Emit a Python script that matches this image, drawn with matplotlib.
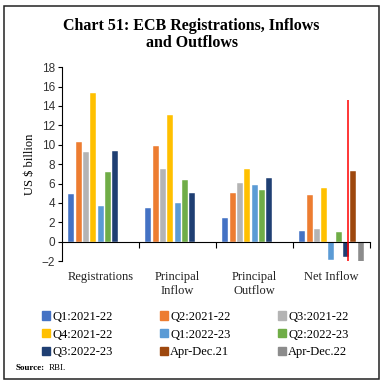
import matplotlib
matplotlib.use("Agg")
import matplotlib.pyplot as plt
from matplotlib.patches import Patch, Rectangle
import numpy as np

# data (US $ billion)
categories = ["Registrations", "Principal\nInflow", "Principal\nOutflow", "Net Inflow"]
series_labels = ["Q1:2021-22", "Q2:2021-22", "Q3:2021-22", "Q4:2021-22",
                 "Q1:2022-23", "Q2:2022-23", "Q3:2022-23", "Apr-Dec.21", "Apr-Dec.22"]
q1_2122 = [4.9, 3.5, 2.4, 1.1]
q2_2122 = [10.25, 9.85, 5.0, 4.8]
q3_2122 = [9.25, 7.45, 6.1, 1.3]
q4_2122 = [15.3, 13.1, 7.55, 5.5]
q1_2223 = [3.7, 4.0, 5.9, -1.9]
q2_2223 = [7.15, 6.4, 5.3, 1.0]
q3_2223 = [9.35, 5.0, 6.55, -1.6]
aprdec21 = [np.nan, np.nan, np.nan, 7.3]
aprdec22 = [np.nan, np.nan, np.nan, -2.2]
series = [q1_2122, q2_2122, q3_2122, q4_2122, q1_2223, q2_2223, q3_2223, aprdec21, aprdec22]
colors = ["#4472C4", "#ED7D31", "#B4B4B4", "#FFC000", "#5B9BD5",
          "#70AD47", "#1F3F73", "#9E480E", "#8C8C8C"]

serif = "Liberation Serif"

fig = plt.figure(figsize=(3.83, 3.84), dpi=100)
ax = fig.add_axes([0.162, 0.320, 0.804, 0.505])

x = np.arange(len(categories))
slot = 0.095
for k, (vals, c, lab) in enumerate(zip(series, colors, series_labels)):
    ax.bar(x + (k - 4) * slot, vals, width=slot * 0.82, color=c,
           edgecolor="white", linewidth=0.3, label=lab)

# red separator line in the Net Inflow group
ax.vlines(x[3] + 2.3 * slot, -2.15, 14.6, color="red", linewidth=1.1, zorder=5)

ax.set_xlim(-0.5, 3.5)
ax.set_ylim(-2, 18)
ax.set_yticks(np.arange(-2, 19, 2))
ax.tick_params(axis="y", direction="out", length=3, width=0.8, pad=2,
               labelsize=8.5)
for t in ax.get_yticklabels():
    t.set_fontfamily("Liberation Sans")
    t.set_color("#333333")

ax.spines["top"].set_visible(False)
ax.spines["right"].set_visible(False)
ax.spines["bottom"].set_position(("data", 0))
ax.spines["left"].set_linewidth(0.8)
ax.spines["bottom"].set_linewidth(0.8)
ax.set_xticks([0.5, 1.5, 2.5, 3.5])
ax.set_xticklabels([])
ax.tick_params(axis="x", direction="out", length=4, width=0.8)

for xi, cat in zip(x, categories):
    ax.text(xi, -0.05, cat, transform=ax.get_xaxis_transform(), ha="center",
            va="top", fontsize=9, family=serif, color="#222222", linespacing=1.2)

ax.set_ylabel("US $ billion", fontsize=9, family=serif, labelpad=4)

# legend: rows as in the chart (fill column-wise)
handles = [Patch(color=c) for c in colors]
order = [0, 3, 6, 1, 4, 7, 2, 5, 8]
fig.legend([handles[i] for i in order], [series_labels[i] for i in order],
           ncol=3, loc="upper left", bbox_to_anchor=(0.11, 0.19, 0.8, 0.0),
           mode="expand", frameon=False, prop={"family": serif, "size": 9},
           handlelength=0.65, handleheight=0.65, handletextpad=0.15,
           labelspacing=0.45, borderaxespad=0, borderpad=0)

fig.text(0.5, 0.91, "Chart 51: ECB Registrations, Inflows\nand Outflows",
         ha="center", va="center", fontsize=11.5, fontweight="bold",
         family=serif, linespacing=1.15)

fig.text(0.04, 0.042, "Source:", fontsize=6.5, fontweight="bold", family=serif,
         va="center")
fig.text(0.128, 0.042, "RBI.", fontsize=6.5, family=serif, va="center")

fig.patches.append(Rectangle((0.0104, 0.013), 0.979, 0.971, transform=fig.transFigure,
                             fill=False, edgecolor="#222222", linewidth=1.1))

fig.savefig("out.png", dpi=100)
